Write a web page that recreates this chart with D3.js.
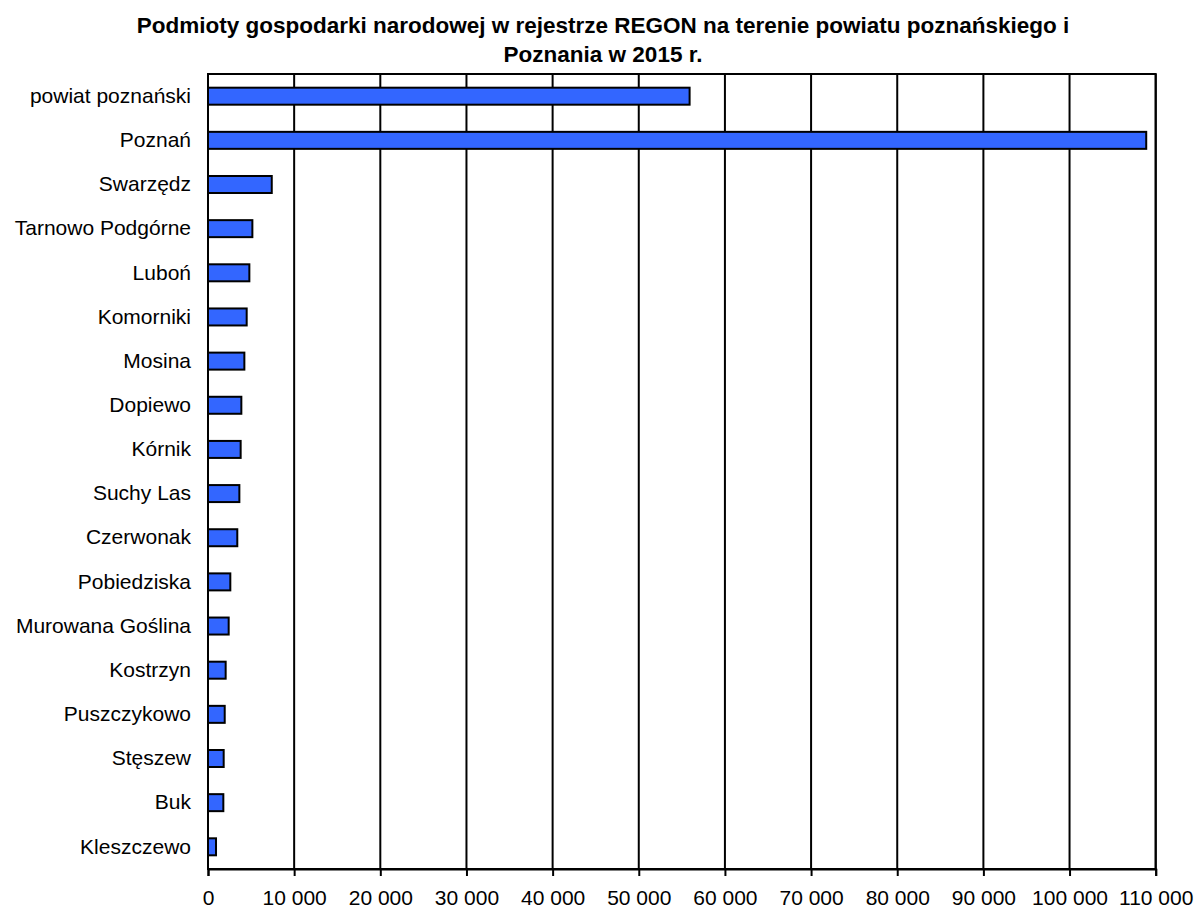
<!DOCTYPE html>
<html>
<head>
<meta charset="utf-8">
<script src="https://cdn.jsdelivr.net/npm/d3@7"></script>
<style>
  body { margin: 0; background: #fff; }
  text { font-family: "Liberation Sans", Arial, sans-serif; }
</style>
</head>
<body>
<div id="chart"></div>
<script>
// gminy (kolejność jak na wykresie)
let categories = ["powiat poznański", "Poznań", "Swarzędz", "Tarnowo Podgórne", "Luboń",
    "Komorniki", "Mosina", "Dopiewo", "Kórnik", "Suchy Las", "Czerwonak", "Pobiedziska",
    "Murowana Goślina", "Kostrzyn", "Puszczykowo", "Stęszew", "Buk", "Kleszczewo"];
let values = [55900, 108900, 7400, 5150, 4800, 4490, 4220, 3870, 3790, 3640, 3400, 2590,
    2400, 2050, 1940, 1820, 1780, 930];
let tickValues = [0, 10000, 20000, 30000, 40000, 50000, 60000, 70000, 80000, 90000, 100000, 110000];
let titleLines = ["Podmioty gospodarki narodowej w rejestrze REGON na terenie powiatu poznańskiego i",
    "Poznania w 2015 r."];

const width = 1196, height = 910;
const margin = {top: 74, right: 40, bottom: 41, left: 208};

let svg = d3.select("#chart").append("svg")
    .attr("width", width)
    .attr("height", height);

let xScale = d3.scaleLinear()
    .domain([0, 110000])
    .range([margin.left, width - margin.right - 0.3]);

let yScale = d3.scaleBand()
    .domain(categories)
    .range([margin.top, height - margin.bottom])
    .paddingInner(0.615)
    .paddingOuter(0.31);

// title
svg.append("text")
    .attr("x", 603)
    .attr("y", 0)
    .attr("text-anchor", "middle")
    .style("font-weight", "bold")
    .style("font-size", "22.5px")
    .selectAll("tspan")
    .data(titleLines)
    .enter().append("tspan")
    .attr("x", 603)
    .attr("y", (d, i) => 33 + i * 29)
    .text(d => d);

// pionowe linie siatki
svg.append("g")
    .selectAll("line")
    .data(tickValues.slice(1))
    .enter().append("line")
    .attr("x1", d => xScale(d))
    .attr("x2", d => xScale(d))
    .attr("y1", margin.top)
    .attr("y2", height - margin.bottom)
    .attr("stroke", "#000")
    .attr("stroke-width", 2);

// ramka
svg.append("rect")
    .attr("x", margin.left)
    .attr("y", margin.top)
    .attr("width", xScale(110000) - margin.left)
    .attr("height", height - margin.bottom - margin.top)
    .attr("fill", "none")
    .attr("stroke", "#000")
    .attr("stroke-width", 2);

// słupki
svg.append("g")
    .selectAll("rect")
    .data(values)
    .enter().append("rect")
    .attr("x", xScale(0))
    .attr("y", (d, i) => yScale(categories[i]))
    .attr("width", d => xScale(d) - xScale(0))
    .attr("height", yScale.bandwidth())
    .attr("fill", "#3366ff")
    .attr("stroke", "#000")
    .attr("stroke-width", 2);

// oś X
let xAxis = d3.axisBottom(xScale)
    .tickValues(tickValues)
    .tickSize(7)
    .tickPadding(14)
    .tickFormat(d => d3.format(",")(d).replace(/,/g, " "));

let gx = svg.append("g")
    .attr("transform", "translate(0," + (height - margin.bottom) + ")")
    .call(xAxis);
gx.select(".domain").attr("stroke-width", 2);
gx.selectAll(".tick line").attr("stroke-width", 2);
gx.selectAll("text")
    .style("font-size", "21px")
    .attr("fill", "#000");

// oś Y (tylko etykiety)
let yAxis = d3.axisLeft(yScale).tickSize(0).tickPadding(17);
let gy = svg.append("g")
    .attr("transform", "translate(" + margin.left + ",0)")
    .call(yAxis);
gy.select(".domain").remove();
gy.selectAll("text")
    .style("font-size", "21px")
    .attr("fill", "#000");
</script>
</body>
</html>
